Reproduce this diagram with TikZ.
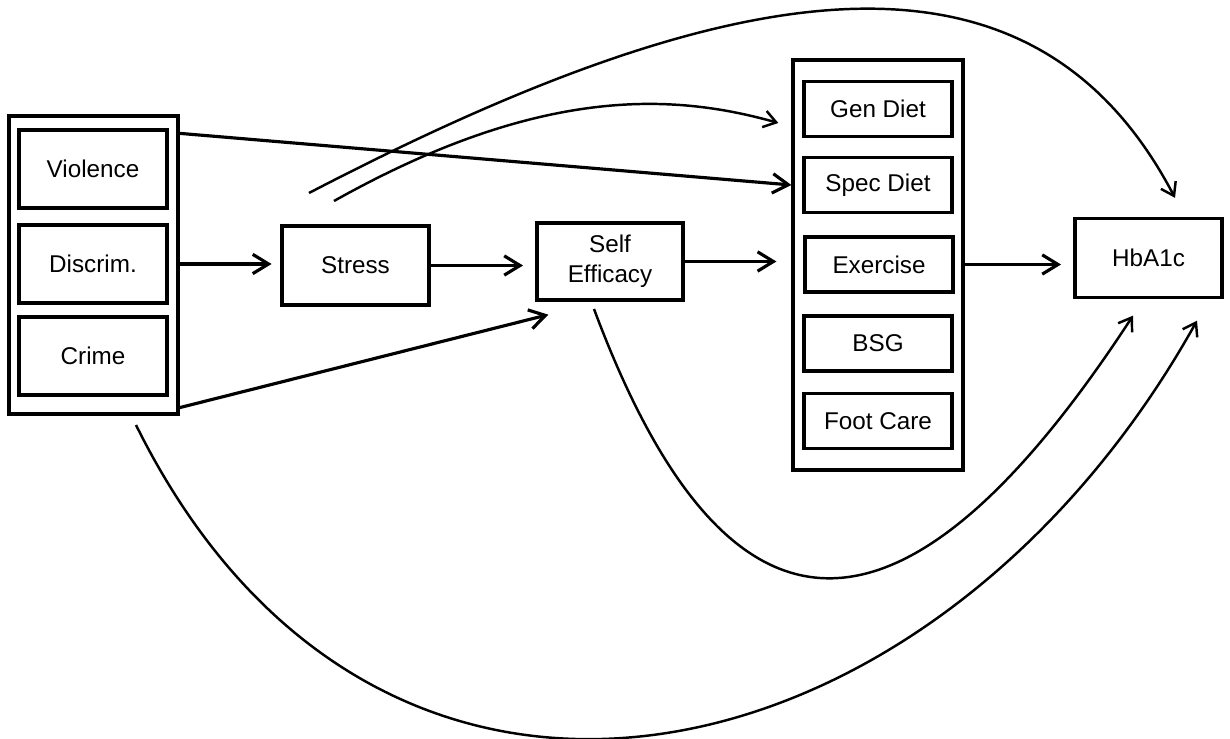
\documentclass[tikz,border=0pt]{standalone}
\usepackage{fontspec}
\setmainfont{Liberation Sans}
\usepackage{tikz}
\usetikzlibrary{arrows.meta,calc}

\begin{document}
\begin{tikzpicture}[x=0.02cm, y=-0.02cm,
  box/.style={draw, line width=1.9pt, minimum width=2.96cm, minimum height=1.56cm, inner sep=1pt, align=center, font=\fontsize{13.8}{17}\selectfont},
  sbox/.style={box, minimum height=1.1cm},
  grp/.style={draw, line width=1.9pt, inner sep=0pt},
  arr/.style={-{Straight Barb[length=9pt,width=11pt]}, line width=1.8pt},
  curvearr/.style={-{Straight Barb[length=7pt,width=9.5pt]}, line width=1.4pt}]
\path[use as bounding box, fill=white] (0,0) rectangle (1230,739);

\node[grp, minimum width=3.38cm, minimum height=5.96cm] (lgrp) at (93.5,265) {};
\node[box] (viol) at (93,169) {Violence};
\node[box] (disc) at (93,264) {Discrim.};
\node[box] (crime) at (93,356) {Crime};
\node[box, minimum width=2.94cm, minimum height=1.58cm] (stress) at (355.5,265.5) {Stress};
\node[box, minimum width=2.92cm, minimum height=1.54cm] (self) at (610,261.5) {Self\\Efficacy};
\node[grp, minimum width=3.4cm, minimum height=8.2cm] (rgrp) at (878,265) {};
\node[sbox] (gen) at (878,109) {Gen Diet};
\node[sbox] (spec) at (878,185) {Spec Diet};
\node[sbox] (exer) at (879,264.5) {Exercise};
\node[sbox] (bsg) at (878,343.5) {BSG};
\node[sbox] (foot) at (878,421) {Foot Care};
\node[box, minimum width=2.94cm, minimum height=1.58cm] (hba) at (1148.5,258) {HbA1c};

\coordinate (c1) at (309,193);
\coordinate (c2) at (334,201);
\coordinate (c3) at (136,425);
\coordinate (c4) at (594,309);

\draw[arr] ($(lgrp.north east)+(0,19)$) -- (rgrp.west |- spec);
\draw[arr, shorten >=5pt] (lgrp.east |- disc) -- (stress.west |- disc);
\draw[arr] ($(lgrp.south east)+(0,-8)$) -- ($(self.south west)+(13,13)$);
\draw[arr, shorten >=7pt] (stress.east) -- (self.west |- stress);
\draw[arr, shorten >=8.5pt] (self.east) -- (rgrp.west |- self);
\draw[arr, shorten >=7pt] (rgrp.east |- exer) -- (hba.west |- exer);

\draw[curvearr] (c1) .. controls (734,-28) and (1031,-77) .. ($(hba.north)+(26.5,-19)$);
\draw[curvearr] (c2) .. controls (539,86) and (672,93) .. ($(rgrp.west |- gen)+(-13,14)$);
\draw[curvearr] (c3) .. controls (380,918) and (935,790) .. ($(hba.south)+(48.5,21.5)$);
\draw[curvearr] (c4) .. controls (728,668) and (905,665) .. ($(hba.south)+(-15.5,16.5)$);
\end{tikzpicture}
\end{document}
